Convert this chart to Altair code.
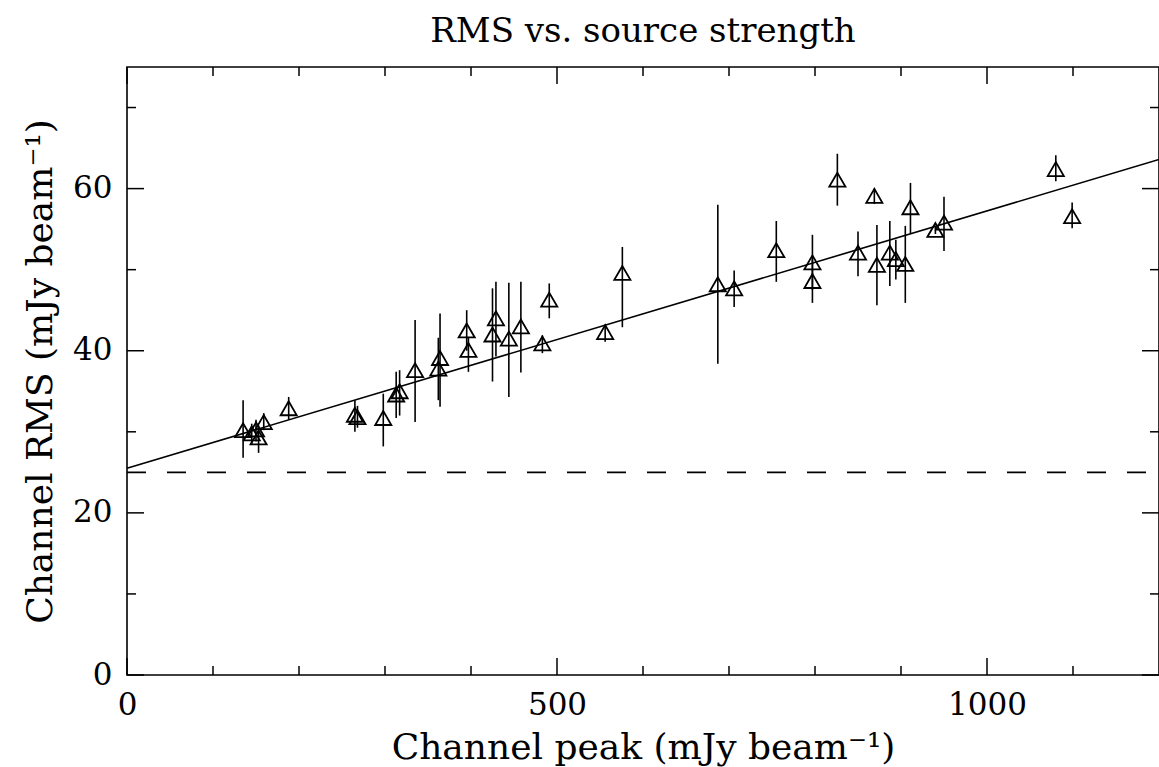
import altair as alt
import pandas as pd

# ---- data ----
peak = [135, 145, 150, 153, 159, 188, 265, 268, 298, 313, 317, 335, 362, 364,
        395, 397, 425, 429, 444, 458, 483, 491, 556, 576, 687, 706, 755, 797,
        797, 826, 850, 869, 872, 887, 894, 905, 911, 940, 950, 1080, 1099]
rms = [30.2, 29.8, 30.3, 29.3, 31.2, 32.9, 32.1, 31.8, 31.7, 34.6, 35.0, 37.6,
       37.8, 39.1, 42.5, 40.1, 42.0, 44.0, 41.5, 43.0, 40.9, 46.3, 42.3, 49.6,
       48.2, 47.7, 52.4, 50.9, 48.6, 61.1, 52.1, 59.1, 50.6, 52.1, 51.3, 50.7,
       57.7, 54.9, 55.8, 62.4, 56.6]
rms_lo = [26.8, 28.5, 28.8, 27.4, 30.2, 31.5, 30.0, 30.5, 28.2, 31.7, 32.0, 31.2,
          33.9, 33.1, 40.0, 37.4, 36.2, 39.3, 34.3, 37.3, 39.7, 44.0, 41.1, 42.9,
          38.4, 45.4, 48.5, 47.5, 45.9, 57.9, 49.2, 58.1, 45.6, 48.0, 48.8, 45.9,
          54.5, 54.4, 52.3, 60.9, 55.1]
rms_hi = [33.9, 31.0, 31.5, 30.8, 32.3, 34.3, 33.9, 33.2, 34.7, 37.4, 37.6, 43.8,
          41.6, 44.6, 45.0, 41.7, 47.7, 48.5, 48.4, 48.5, 41.9, 48.3, 43.2, 52.8,
          58.0, 49.9, 56.0, 54.3, 51.5, 64.3, 54.7, 60.0, 55.5, 56.0, 53.7, 55.4,
          60.7, 55.4, 59.0, 64.1, 58.3]
fit_intercept = 25.5
fit_slope = 0.03175
noise_level = 25.0
x_range = [0, 1200]
y_range = [0, 75]
x_major = [0, 500, 1000]
x_minor = [100, 200, 300, 400, 600, 700, 800, 900, 1100]
y_major = [0, 20, 40, 60]
y_minor = [10, 30, 50, 70]

W, H = 1032, 608
FONT = "DejaVu Serif"
MAJ, MIN = 17, 9

pts = pd.DataFrame({"peak": peak, "rms": rms, "lo": rms_lo, "hi": rms_hi})
fit = pd.DataFrame({"peak": x_range})
fit["rms"] = fit_intercept + fit_slope * fit["peak"]

xs = alt.Scale(domain=x_range, nice=False, zero=False)
ys = alt.Scale(domain=y_range, nice=False, zero=False)

AX = alt.Axis(values=x_major, format="d", title="Channel peak (mJy beam⁻¹)",
              domain=False, ticks=False, grid=False, labelFlush=False,
              labelPadding=15, titlePadding=10, titleFontSize=36)
AY = alt.Axis(values=y_major, format="d", title="Channel RMS (mJy beam⁻¹)",
              domain=False, ticks=False, grid=False, labelFlush=False,
              labelPadding=15, titlePadding=13, titleFontSize=36)


def X(f):
    return alt.X(f, scale=xs, axis=AX)


def Y(f):
    return alt.Y(f, scale=ys, axis=AY)


points = alt.Chart(pts).mark_point(
    shape="triangle-up", filled=False, size=260, stroke="black",
    strokeWidth=1.8, opacity=1
).encode(x=X("peak:Q"), y=Y("rms:Q"))

bars = alt.Chart(pts).mark_rule(color="black", strokeWidth=1.6).encode(
    x=X("peak:Q"), y=Y("lo:Q"), y2="hi:Q")

fitline = alt.Chart(fit).mark_line(color="black", strokeWidth=1.6).encode(
    x=X("peak:Q"), y=Y("rms:Q"))

noise = alt.Chart(pd.DataFrame({"rms": [noise_level]})).mark_rule(
    color="black", strokeWidth=1.6, strokeDash=[19, 21], strokeDashOffset=27
).encode(y=Y("rms:Q"))


def xticks(vals, L):
    d = pd.DataFrame({"peak": vals})
    b = alt.Chart(d).mark_rule(color="black", strokeWidth=1.5)
    return (b.encode(x=X("peak:Q"), y=alt.value(H), y2=alt.value(H - L))
            + b.encode(x=X("peak:Q"), y=alt.value(0), y2=alt.value(L)))


def yticks(vals, L):
    d = pd.DataFrame({"rms": vals})
    b = alt.Chart(d).mark_rule(color="black", strokeWidth=1.5)
    return (b.encode(y=Y("rms:Q"), x=alt.value(0), x2=alt.value(L))
            + b.encode(y=Y("rms:Q"), x=alt.value(W), x2=alt.value(W - L)))


chart = alt.layer(
    points, noise, fitline, bars,
    xticks(x_major, MAJ), xticks(x_minor, MIN),
    yticks(y_major, MAJ), yticks(y_minor, MIN),
).properties(
    width=W, height=H,
    title=alt.TitleParams("RMS vs. source strength", fontSize=34, font=FONT,
                          fontWeight="normal", color="black", offset=17),
    autosize=alt.AutoSizeParams(type="none"),
    padding={"left": 127, "top": 67, "right": 0, "bottom": 92},
).configure_axis(
    labelFont=FONT, titleFont=FONT, labelFontSize=31,
    labelColor="black", titleColor="black", titleFontWeight="normal",
).configure_view(stroke="black", strokeWidth=1.6)

chart.save("out.html", embed_options={"renderer": "svg", "actions": False})
